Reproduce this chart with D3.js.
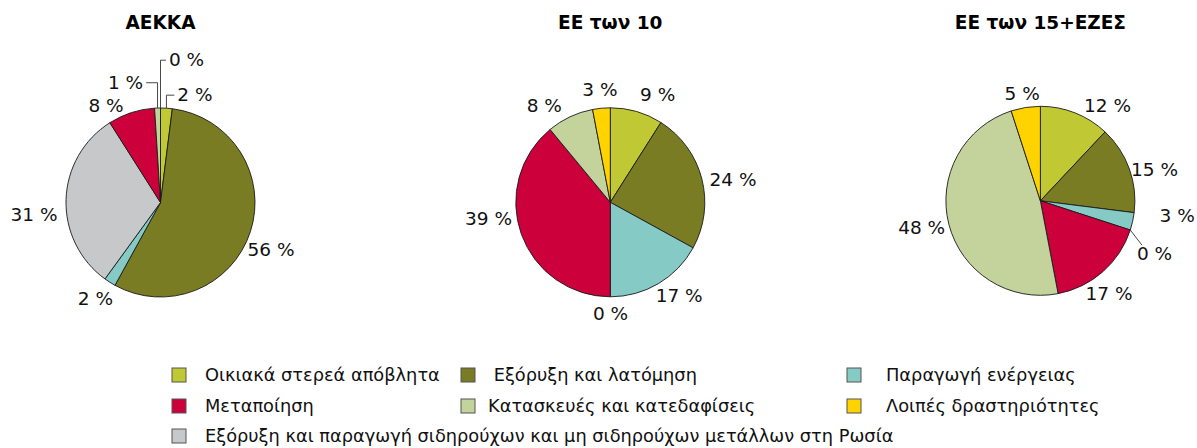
<!DOCTYPE html>
<html>
<head>
<meta charset="utf-8">
<script src="https://cdn.jsdelivr.net/npm/d3@7/dist/d3.min.js"></script>
<style>
  body { margin: 0; background: #fff; }
  svg { display: block; font-family: "DejaVu Sans", Verdana, sans-serif; }
</style>
</head>
<body>
<div id="chart"></div>
<script>
// Categories (legend order) and their colours
const categories = [
  "Οικιακά στερεά απόβλητα",
  " Εξόρυξη και λατόμηση",
  "Παραγωγή ενέργειας",
  "Μεταποίηση",
  "Κατασκευές και κατεδαφίσεις",
  "Λοιπές δραστηριότητες",
  "Εξόρυξη και παραγωγή σιδηρούχων και μη σιδηρούχων μετάλλων στη Ρωσία"
];
const colors = ["#c0c834", "#797c22", "#85cac5", "#cc003a", "#c3d39b", "#ffd300", "#c7c8ca"];

const chartTitles = ["ΑΕΚΚΑ", "ΕΕ των 10", "ΕΕ των 15+ΕΖΕΣ"];

// Shares in %, by category order above
const aekkaValues = [2, 56, 2, 8, 1, 0, 31];
const eu10Values  = [9, 24, 17, 39, 8, 3, 0];
const eu15Values  = [12, 15, 3, 17, 48, 5, 0];

// Order in which the slices run clockwise from 12 o'clock
const sliceOrder = [0, 1, 2, 6, 3, 4, 5];

// Layout
const width = 1197, height = 448;
const radius = 94.5;
const pieCenters = [[160.5, 202.5], [610.3, 202.3], [1040.4, 200.8]];
const titleY = 29;

// Label offsets from the slice's outer edge point (slice order), with optional leader
const labelOffsets = [
  [[28.5, -13.5, "elbow"], [20.6, 18], [-14.4, 15.9], [-32, 15.2], [-25.3, -7.4], [-32, -25.8, "elbow"], [26, -48.3, "elbow"]],
  [[21, -17.6], [31.2, 0.6], [20.8, 11.3], [0.2, 16.2], [-32.9, -15.7], [-25.8, -11.7], [-1.5, -18.7]],
  [[32.4, -7.4], [25.2, 0.2], [44.5, -5.9], [24.3, 23.5, "line"], [6.2, 21.8], [-27.2, 3.2], [-3.5, -13.9]]
];

const legendSquareX = [172, 461, 847];
const legendTextX = [205, 488, 886];
const legendRows = [375, 406, 436];

const svg = d3.select("#chart")
  .append("svg")
  .attr("width", width)
  .attr("height", height);

const pie = d3.pie().sort(null).value(d => d.value);
const arc = d3.arc().innerRadius(0).outerRadius(radius);

[aekkaValues, eu10Values, eu15Values].forEach((vals, ci) => {
  const [cx, cy] = pieCenters[ci];
  const data = sliceOrder.map(k => ({ cat: k, value: vals[k] }));
  const arcs = pie(data);

  svg.append("text")
    .attr("x", cx)
    .attr("y", titleY)
    .attr("text-anchor", "middle")
    .attr("font-size", 18.5)
    .attr("font-weight", "bold")
    .text(chartTitles[ci]);

  const g = svg.append("g").attr("transform", `translate(${cx},${cy})`);

  g.selectAll("path")
    .data(arcs.filter(d => d.value > 0))
    .enter().append("path")
    .attr("d", arc)
    .attr("fill", d => colors[d.data.cat])
    .attr("stroke", "#1a1a1a")
    .attr("stroke-width", 0.9)
    .attr("stroke-linejoin", "round");

  // labels
  arcs.forEach((d, i) => {
    const mid = (d.startAngle + d.endAngle) / 2;
    const ex = radius * Math.sin(mid), ey = -radius * Math.cos(mid);
    const [ox, oy, leader] = labelOffsets[ci][i];
    const lx = ex + ox, ly = ey + oy;
    const t = g.append("text")
      .attr("x", lx)
      .attr("y", ly)
      .attr("dy", "0.36em")
      .attr("text-anchor", "middle")
      .attr("font-size", 18.5)
      .attr("fill", "#111")
      .text(d.value + " %");
    if (leader) {
      const bb = t.node().getBBox();
      let pts;
      if (leader === "elbow") {
        const edge = ox > 0 ? bb.x - 3 : bb.x + bb.width + 3;
        const ly2 = ly + 0.5;
        pts = [[ex, ey], [ex, ly2], [edge, ly2]];
      } else {
        pts = [[ex, ey], [bb.x + 5, bb.y + 2]];
      }
      g.append("path")
        .attr("d", d3.line()(pts))
        .attr("fill", "none")
        .attr("stroke", "#333")
        .attr("stroke-width", 0.9);
    }
  });
});

// legend
const legend = svg.append("g");
categories.forEach((name, i) => {
  const col = i % 3, y = legendRows[Math.floor(i / 3)];
  legend.append("rect")
    .attr("x", legendSquareX[col])
    .attr("y", y - 7)
    .attr("width", 14)
    .attr("height", 14)
    .attr("fill", colors[i])
    .attr("stroke", "#555")
    .attr("stroke-width", 1);
  legend.append("text")
    .attr("x", legendTextX[col])
    .attr("y", y)
    .attr("dy", "0.36em")
    .attr("font-size", 17.8)
    .attr("fill", "#111")
    .attr("xml:space", "preserve")
    .style("white-space", "pre")
    .text(name);
});
</script>
</body>
</html>
